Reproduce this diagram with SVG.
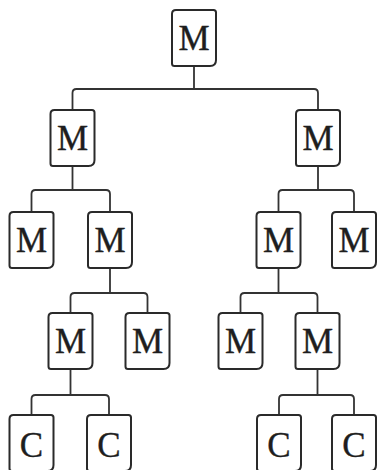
<svg xmlns="http://www.w3.org/2000/svg" xmlns:xlink="http://www.w3.org/1999/xlink" width="377" height="470" viewBox="0 0 377 470">
<style>
.box{fill:#fff;stroke:#2a2a2a;stroke-width:2}
.lbl{font-family:"Liberation Serif","Times New Roman",serif;font-size:35px;fill:#1e1e1e;text-anchor:middle;stroke:#1e1e1e;stroke-width:0.4}
.con{fill:none;stroke:#333;stroke-width:1.8}
</style>
<defs>
<path id="b" class="box" d="M4,0 H41.5 Q44,0 44,2.5 V50 Q44,56 38,56 H2.5 Q0,56 0,53.5 V4 Q0,0 4,0 Z"/>
</defs>
<rect width="377" height="470" fill="#fff"/>
<g id="connectors">
<path class="con" d="M194,67 V89 M72.5,110 V93 Q72.5,89 76.5,89 H314 Q318,89 318,93 V110"/>
<path class="con" d="M72.5,166 V190 M31.5,212 V194 Q31.5,190 35.5,190 H106 Q110,190 110,194 V212"/>
<path class="con" d="M318,166 V190 M278.5,212 V194 Q278.5,190 282.5,190 H350 Q354,190 354,194 V212"/>
<path class="con" d="M110,268 V293 M70.5,313 V297 Q70.5,293 74.5,293 H143.5 Q147.5,293 147.5,297 V313"/>
<path class="con" d="M278.5,268 V293 M240.5,313 V297 Q240.5,293 244.5,293 H313.5 Q317.5,293 317.5,297 V313"/>
<path class="con" d="M70.5,369 V395 M31.5,415 V399 Q31.5,395 35.5,395 H105 Q109,395 109,399 V415"/>
<path class="con" d="M317.5,369 V395 M279,415 V399 Q279,395 283,395 H350 Q354,395 354,399 V415"/>
</g>
<g id="n0" transform="translate(172,10)"><use xlink:href="#b"/><text class="lbl" x="22" y="40">M</text></g>
<g id="n1" transform="translate(50.5,110)"><use xlink:href="#b"/><text class="lbl" x="22" y="40">M</text></g>
<g id="n2" transform="translate(296,110)"><use xlink:href="#b"/><text class="lbl" x="22" y="40">M</text></g>
<g id="n3" transform="translate(9.5,212)"><use xlink:href="#b"/><text class="lbl" x="22" y="40">M</text></g>
<g id="n4" transform="translate(88,212)"><use xlink:href="#b"/><text class="lbl" x="22" y="40">M</text></g>
<g id="n5" transform="translate(256.5,212)"><use xlink:href="#b"/><text class="lbl" x="22" y="40">M</text></g>
<g id="n6" transform="translate(332,212)"><use xlink:href="#b"/><text class="lbl" x="22" y="40">M</text></g>
<g id="n7" transform="translate(48.5,313)"><use xlink:href="#b"/><text class="lbl" x="22" y="40">M</text></g>
<g id="n8" transform="translate(125.5,313)"><use xlink:href="#b"/><text class="lbl" x="22" y="40">M</text></g>
<g id="n9" transform="translate(218.5,313)"><use xlink:href="#b"/><text class="lbl" x="22" y="40">M</text></g>
<g id="n10" transform="translate(295.5,313)"><use xlink:href="#b"/><text class="lbl" x="22" y="40">M</text></g>
<g id="c1" transform="translate(9.5,415)"><use xlink:href="#b"/><text class="lbl" x="22" y="42">C</text></g>
<g id="c2" transform="translate(87,415)"><use xlink:href="#b"/><text class="lbl" x="22" y="42">C</text></g>
<g id="c3" transform="translate(257,415)"><use xlink:href="#b"/><text class="lbl" x="22" y="42">C</text></g>
<g id="c4" transform="translate(332,415)"><use xlink:href="#b"/><text class="lbl" x="22" y="42">C</text></g>
</svg>
